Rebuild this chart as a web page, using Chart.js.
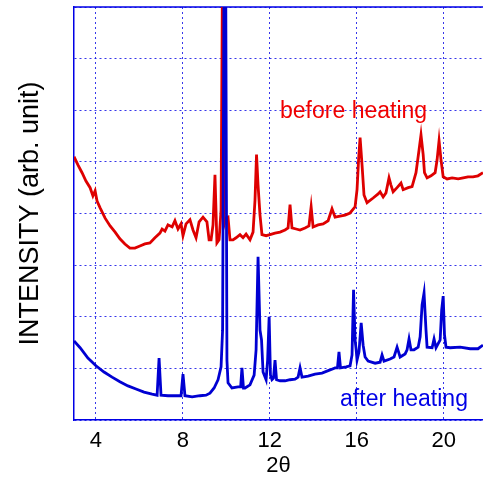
<!DOCTYPE html>
<html>
<head>
<meta charset="utf-8">
<script src="https://cdn.jsdelivr.net/npm/chart.js@4.4.1/dist/chart.umd.min.js"></script>
<style>
  body { margin: 0; background: #fff; }
  #wrap { width: 483px; height: 484px; }
</style>
</head>
<body>
<div id="wrap"><canvas id="chart"></canvas></div>
<script>
// 2-theta positions and intensities (arb. unit)
const beforeX = [3.00, 3.18, 3.37, 3.55, 3.74, 3.87, 3.97, 4.06, 4.20, 4.43, 4.66, 4.89, 5.11, 5.34, 5.57, 5.80,
  6.03, 6.26, 6.49, 6.72, 6.95, 7.05, 7.18, 7.32, 7.51, 7.64, 7.78, 7.92, 8.01, 8.15, 8.33, 8.47, 8.61, 8.75,
  8.93, 9.11, 9.21, 9.30, 9.39, 9.48, 9.57, 9.67, 9.76, 9.83, 9.90, 9.99, 10.08, 10.17, 10.31, 10.45, 10.63,
  10.77, 10.91, 11.09, 11.23, 11.32, 11.39, 11.46, 11.55, 11.64, 11.83, 12.01, 12.24, 12.47, 12.70, 12.84,
  12.93, 13.02, 13.21, 13.39, 13.62, 13.80, 13.90, 13.99, 14.22, 14.45, 14.68, 14.86, 15.00, 15.23, 15.46,
  15.69, 15.92, 16.01, 16.08, 16.15, 16.24, 16.33, 16.47, 16.75, 16.98, 17.07, 17.21, 17.34, 17.48, 17.57,
  17.67, 17.85, 18.03, 18.13, 18.36, 18.54, 18.72, 18.86, 18.95, 19.05, 19.11, 19.23, 19.41, 19.60, 19.69,
  19.78, 19.87, 19.97, 20.15, 20.38, 20.66, 20.89, 21.11, 21.34, 21.57, 21.80];
const beforeY = [5.10, 4.94, 4.79, 4.63, 4.50, 4.34, 4.44, 4.24, 4.11, 3.91, 3.76, 3.64, 3.51, 3.41, 3.33, 3.33,
  3.37, 3.41, 3.43, 3.53, 3.62, 3.70, 3.66, 3.78, 3.74, 3.86, 3.70, 3.80, 3.57, 3.80, 3.88, 3.68, 3.53, 3.84,
  3.93, 3.84, 3.49, 3.49, 3.78, 4.75, 3.43, 3.49, 4.07, 9.00, 3.78, 3.91, 3.93, 3.49, 3.49, 3.53, 3.59,
  3.53, 3.60, 3.49, 3.64, 4.26, 5.14, 4.55, 3.97, 3.59, 3.57, 3.59, 3.62, 3.64, 3.68, 3.72,
  4.17, 3.72, 3.70, 3.68, 3.72, 3.76, 4.13, 3.74, 3.78, 3.80, 3.86, 4.09, 3.93, 3.95, 3.97,
  4.01, 4.13, 4.46, 5.04, 5.47, 4.94, 4.36, 4.21, 4.30, 4.38, 4.42, 4.32, 4.40, 4.69, 4.55,
  4.42, 4.50, 4.59, 4.46, 4.50, 4.52, 4.79, 5.23, 5.52, 5.14, 4.79, 4.69, 4.73, 4.79, 5.04,
  5.41, 5.04, 4.71, 4.67, 4.69, 4.67, 4.69, 4.71, 4.71, 4.73, 4.79];

const afterX = [3.00, 3.28, 3.64, 4.01, 4.38, 4.75, 5.11, 5.48, 5.85, 6.22, 6.59, 6.82, 6.91, 7.00, 7.32, 7.69,
  7.92, 8.01, 8.10, 8.43, 8.79, 9.07, 9.25, 9.44, 9.62, 9.76, 9.83, 9.90, 9.97, 10.03, 10.08, 10.26, 10.54,
  10.66, 10.72, 10.79, 10.86, 11.09, 11.28, 11.37, 11.46, 11.55, 11.62, 11.69, 11.83, 11.90, 11.97, 12.03,
  12.10, 12.17, 12.24, 12.31, 12.47, 12.70, 12.93, 13.16, 13.30, 13.39, 13.48, 13.76, 14.08, 14.40, 14.77,
  15.00, 15.11, 15.18, 15.25, 15.51, 15.69, 15.78, 15.85, 15.92, 15.97, 16.01, 16.10, 16.20, 16.29, 16.38,
  16.52, 16.84, 17.07, 17.16, 17.25, 17.53, 17.71, 17.85, 17.99, 18.22, 18.31, 18.40, 18.49, 18.63, 18.82,
  18.91, 19.00, 19.09, 19.18, 19.23, 19.46, 19.55, 19.64, 19.83, 19.90, 19.97, 20.03, 20.10, 20.29, 20.75,
  21.21, 21.57, 21.80];
const afterY = [1.53, 1.40, 1.20, 1.05, 0.93, 0.83, 0.74, 0.66, 0.60, 0.54, 0.50, 0.48, 1.20, 0.48, 0.47, 0.47,
  0.47, 0.89, 0.47, 0.45, 0.47, 0.48, 0.52, 0.62, 0.78, 1.03, 1.74, 9.00, 9.00, 1.16, 0.72, 0.62, 0.64,
  0.64, 1.01, 0.62, 0.62, 0.68, 0.87, 1.36, 3.16, 1.74, 1.55, 0.93, 0.78, 1.16, 2.00, 0.87,
  0.78, 0.81, 1.16, 0.78, 0.76, 0.76, 0.78, 0.79, 0.83, 1.01, 0.83, 0.85, 0.89, 0.91, 0.97,
  1.01, 1.01, 1.32, 1.01, 1.03, 1.05, 1.26, 2.52, 1.55, 1.36, 1.16, 1.32, 1.88, 1.45, 1.22,
  1.14, 1.10, 1.12, 1.26, 1.14, 1.18, 1.22, 1.41, 1.22, 1.28, 1.36, 1.57, 1.36, 1.36, 1.41,
  1.61, 2.23, 2.46, 1.74, 1.41, 1.40, 1.57, 1.40, 1.55, 2.13, 2.40, 1.65, 1.41, 1.40, 1.41,
  1.38, 1.38, 1.45];

const xTicks = [4, 8, 12, 16, 20];

// curve labels: text and anchor in data units
const labelTexts = ['before heating', 'after heating'];
const labelX = [12.47, 15.23];
const labelY = [5.85, 0.27];

const RED = 'rgb(222, 0, 0)';
const BLUE = 'rgb(0, 0, 210)';
const AXIS_BLUE = 'rgb(0, 0, 230)';
const GRID_BLUE = 'rgba(20, 20, 230, 0.85)';
const FONT = "'Liberation Sans', Arial, sans-serif";

const toPoints = (xs, ys) => xs.map((x, i) => ({ x: x, y: ys[i] }));

const frameTop = {
    id: 'frameTop',
    beforeDatasetsDraw(chart) {
        const { ctx, chartArea } = chart;
        ctx.save();
        ctx.strokeStyle = AXIS_BLUE;
        ctx.lineWidth = 1.5;
        ctx.beginPath();
        ctx.moveTo(chartArea.left, chartArea.top);
        ctx.lineTo(chartArea.right, chartArea.top);
        ctx.stroke();
        ctx.restore();
    },
    afterDatasetsDraw(chart) {
        const { ctx, scales } = chart;
        const colors = ['rgb(240, 0, 0)', 'rgb(0, 0, 230)'];
        ctx.save();
        ctx.font = '23px ' + FONT;
        ctx.textAlign = 'left';
        ctx.textBaseline = 'alphabetic';
        labelTexts.forEach((text, i) => {
            ctx.fillStyle = colors[i];
            ctx.fillText(text, scales.x.getPixelForValue(labelX[i]), scales.y.getPixelForValue(labelY[i]));
        });
        ctx.restore();
    }
};

new Chart(document.getElementById('chart'), {
    type: 'line',
    data: {
        datasets: [
            {
                label: 'after heating',
                data: toPoints(afterX, afterY),
                borderColor: BLUE,
                borderWidth: 2.8,
                pointRadius: 0,
                tension: 0,
                fill: false
            },
            {
                label: 'before heating',
                data: toPoints(beforeX, beforeY),
                borderColor: RED,
                borderWidth: 2.8,
                pointRadius: 0,
                tension: 0,
                fill: false
            }
        ]
    },
    options: {
        responsive: true,
        maintainAspectRatio: false,
        animation: false,
        layout: { padding: { top: 7, right: 0, left: 0, bottom: 0 } },
        plugins: {
            legend: { display: false },
            tooltip: { enabled: false }
        },
        scales: {
            x: {
                type: 'linear',
                min: 3,
                max: 21.8,
                afterBuildTicks: (scale) => { scale.ticks = xTicks.map(v => ({ value: v })); },
                afterFit: (scale) => { scale.height = 64; },
                grid: { color: GRID_BLUE, lineWidth: 1, drawTicks: false },
                border: { color: AXIS_BLUE, width: 1.5, dash: [2, 3] },
                ticks: { color: '#000', padding: 8, font: { family: FONT, size: 22 } },
                title: { display: true, text: '2θ', color: '#000', padding: { top: 0, bottom: 5 }, font: { family: FONT, size: 22 } }
            },
            y: {
                type: 'linear',
                min: 0,
                max: 8,
                afterFit: (scale) => { scale.width = 74; },
                grid: { color: GRID_BLUE, lineWidth: 1, drawTicks: false },
                border: { color: AXIS_BLUE, width: 1.5, dash: [2, 3] },
                ticks: { display: false, stepSize: 1 },
                title: { display: true, text: 'INTENSITY (arb. unit)', color: '#000', padding: { top: 14, bottom: 0 }, font: { family: FONT, size: 27 } }
            }
        }
    },
    plugins: [frameTop]
});
</script>
</body>
</html>
